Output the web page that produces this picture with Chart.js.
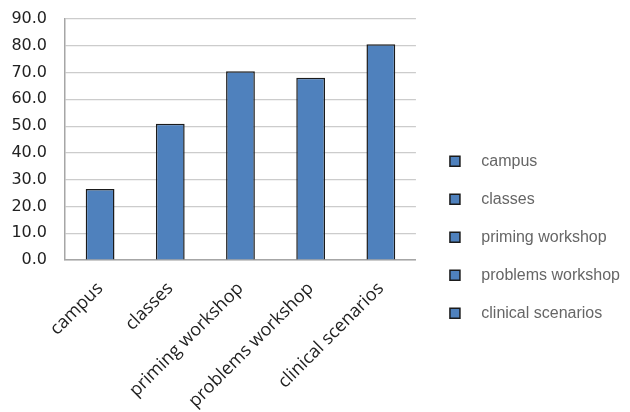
<!DOCTYPE html>
<html>
<head>
<meta charset="utf-8">
<script src="https://cdn.jsdelivr.net/npm/chart.js@4"></script>
<style>
  html, body { margin: 0; padding: 0; background: #fff; }
  #wrap { width: 630px; height: 412px; }
</style>
</head>
<body>
<div id="wrap"><canvas id="chart"></canvas></div>
<script>
const categories = ["campus", "classes", "priming workshop", "problems workshop", "clinical scenarios"];
const values = [26.5, 50.9, 70.5, 68.1, 80.6];
const y_min = 0;
const y_max = 90;
const y_step = 10;

const bar_color = "#4F81BD";
const edge_color = "#1b1b1b";

const chart_el = document.getElementById("chart");

new Chart(chart_el, {
  type: 'bar',
  data: {
    labels: categories,
    datasets: [{
      data: values,
      backgroundColor: bar_color,
      borderColor: edge_color,
      borderWidth: 1.5,
      borderSkipped: 'start',
      categoryPercentage: 1,
      barPercentage: 0.41
    }]
  },
  options: {
    responsive: true,
    maintainAspectRatio: false,
    animation: false,
    layout: {
      padding: { top: 19, left: 0, right: 0, bottom: 0 }
    },
    plugins: {
      tooltip: { enabled: false },
      legend: {
        position: 'right',
        onClick: null,
        maxWidth: 260,
        title: { display: true, text: '', padding: { top: 29, bottom: 0 } },
        labels: {
          boxWidth: 10,
          boxHeight: 10,
          padding: 22,
          color: '#333',
          font: { family: 'Liberation Sans', size: 16 },
          // one legend row per category, all the same colour
          generateLabels: () => categories.map(c => ({
            text: '   ' + c,
            fillStyle: bar_color,
            strokeStyle: edge_color,
            lineWidth: 1.5,
            hidden: false,
            datasetIndex: 0
          }))
        }
      }
    },
    scales: {
      x: {
        grid: { display: false, drawTicks: false },
        border: { color: '#a6a6a6', width: 1.5 },
        ticks: {
          minRotation: 45,
          maxRotation: 45,
          padding: 18,
          color: '#222',
          font: { family: 'Open Sans', size: 18 }
        },
        afterFit: (scale) => { scale.height = 152; }
      },
      y: {
        min: y_min,
        max: y_max,
        // invisible tick marks give the gap between labels and axis
        grid: { color: '#cccccc', lineWidth: 1.2, drawTicks: true, tickLength: 15, tickColor: 'rgba(0,0,0,0)' },
        border: { color: '#a6a6a6', width: 1.5 },
        ticks: {
          stepSize: y_step,
          padding: 3,
          color: '#222',
          font: { family: 'DejaVu Sans', size: 16 },
          callback: (v) => Number(v).toFixed(1)
        },
        afterFit: (scale) => { scale.width = 65; }
      },
      // empty spacer between the plot and the legend
      gap: {
        type: 'linear',
        position: 'right',
        grid: { display: false },
        border: { display: false },
        ticks: { display: false },
        afterFit: (scale) => { scale.width = 12; }
      }
    }
  }
});
</script>
</body>
</html>
